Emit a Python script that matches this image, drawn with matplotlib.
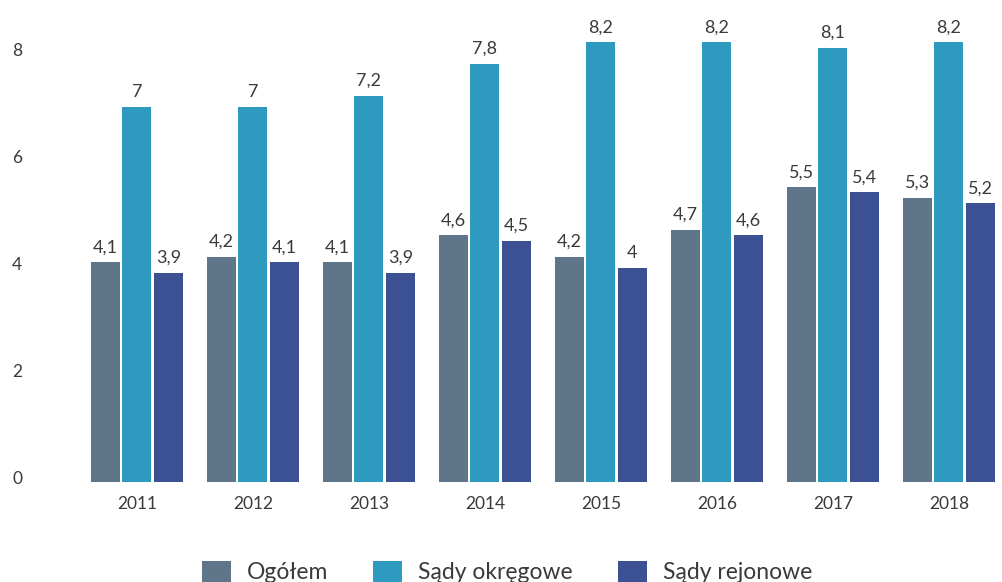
import matplotlib.pyplot as plt
import matplotlib.transforms as mtransforms
from matplotlib.patches import Patch
import numpy as np

# Data
years = ["2011", "2012", "2013", "2014", "2015", "2016", "2017", "2018"]
ogolem = [4.1, 4.2, 4.1, 4.6, 4.2, 4.7, 5.5, 5.3]
okregowe = [7, 7, 7.2, 7.8, 8.2, 8.2, 8.1, 8.2]
rejonowe = [3.9, 4.1, 3.9, 4.5, 4, 4.6, 5.4, 5.2]
series_names = ["Ogółem", "Sądy okręgowe", "Sądy rejonowe"]
colors = ["#5f7589", "#2f9abf", "#3b5193"]
yticks = [0, 2, 4, 6, 8]

plt.rcParams['font.family'] = ['Lato', 'DejaVu Sans']
text_color = "#3a3a3a"


def fmt(v):
    s = ("%g" % v)
    return s.replace(".", ",")


fig = plt.figure(figsize=(10.02, 5.82), dpi=100)
# axes: x from 79 to 1001 px, y from 482 (value 0) to 22 px
ax = fig.add_axes([79 / 1002, (582 - 482) / 582, 922 / 1002, 460 / 582])

x = np.arange(len(years))
width = 0.25
step = 0.272
for i, (vals, c) in enumerate(zip([ogolem, okregowe, rejonowe], colors)):
    bars = ax.bar(x + (i - 1) * step, vals, width, color=c, zorder=2)
    for b, v in zip(bars, vals):
        ax.annotate(fmt(v), (b.get_x() + b.get_width() / 2, v),
                    xytext=(0, 5), textcoords="offset points",
                    ha="center", va="bottom", fontsize=13,
                    color=text_color)

ax.set_xlim(-0.5, 7.45)
ax.set_ylim(0, 8.58)
ax.set_yticks(yticks)
ax.set_yticklabels([str(t) for t in yticks])
ax.set_xticks(x)
ax.set_xticklabels(years)
ax.tick_params(axis="both", length=0, labelsize=12.5, labelcolor=text_color)
ax.tick_params(axis="y", pad=41)
ax.tick_params(axis="x", pad=10)
for lbl in ax.get_yticklabels():
    lbl.set_transform(lbl.get_transform() +
                      mtransforms.ScaledTranslation(0, 4 / 100, fig.dpi_scale_trans))
for s in ax.spines.values():
    s.set_visible(False)

handles = [Patch(facecolor=c, edgecolor="none", label=n) for c, n in zip(colors, series_names)]
leg = fig.legend(handles=handles, loc="center", bbox_to_anchor=(507 / 1002, 1 - 572 / 582),
                 ncol=3, frameon=False, fontsize=16.5, handlelength=1.27, handleheight=1.1,
                 handletextpad=0.7, columnspacing=1.95, borderpad=0)
for t in leg.get_texts():
    t.set_color(text_color)

fig.savefig("out.png", dpi=100)
